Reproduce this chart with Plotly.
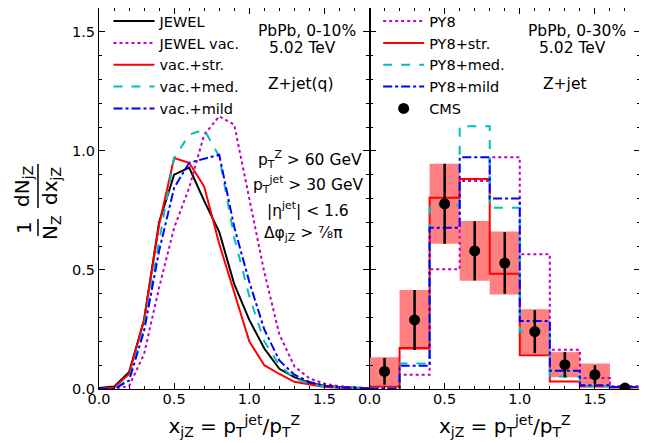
import plotly.graph_objects as go

# ---------------- data ----------------
x_left = [0.0, 0.1, 0.2, 0.3, 0.4, 0.5, 0.6, 0.7, 0.8, 0.9, 1.0, 1.1, 1.2, 1.3, 1.4, 1.5, 1.6, 1.7, 1.8]
jewel = [0.004, 0.01, 0.07, 0.29, 0.70, 0.90, 0.93, 0.79, 0.66, 0.44, 0.29, 0.17, 0.085, 0.05, 0.025, 0.014, 0.008, 0.005, 0.003]
jewel_vac = [0.0, 0.002, 0.012, 0.147, 0.426, 0.677, 0.845, 1.068, 1.145, 1.11, 0.80, 0.49, 0.23, 0.095, 0.045, 0.022, 0.012, 0.006, 0.004]
vac_str = [0.0, 0.006, 0.063, 0.29, 0.69, 0.97, 0.95, 0.85, 0.61, 0.40, 0.20, 0.10, 0.063, 0.03, 0.018, 0.008, 0.005, 0.003, 0.002]
vac_med = [0.0, 0.002, 0.042, 0.258, 0.62, 0.97, 1.068, 1.089, 0.977, 0.635, 0.39, 0.20, 0.10, 0.045, 0.022, 0.012, 0.006, 0.004, 0.002]
vac_mild = [0.0, 0.0, 0.035, 0.244, 0.58, 0.845, 0.95, 0.968, 0.984, 0.68, 0.45, 0.25, 0.12, 0.06, 0.03, 0.014, 0.007, 0.004, 0.002]

bin_edges = [0.0, 0.2, 0.4, 0.6, 0.8, 1.0, 1.2, 1.4, 1.6, 1.8]
bin_centers = [0.1, 0.3, 0.5, 0.7, 0.9, 1.1, 1.3, 1.5, 1.7]
py8 = [0.002, 0.06, 0.503, 0.873, 0.973, 0.566, 0.165, 0.046, 0.012]
py8_str = [0.01, 0.172, 0.803, 0.882, 0.484, 0.142, 0.032, 0.01, 0.006]
py8_med = [0.002, 0.107, 0.772, 1.103, 0.761, 0.241, 0.052, 0.012, 0.006]
py8_mild = [0.002, 0.098, 0.677, 0.973, 0.80, 0.286, 0.077, 0.016, 0.008]
cms_y = [0.074, 0.29, 0.778, 0.58, 0.529, 0.241, 0.102, 0.06, 0.004]
cms_stat = [0.056, 0.126, 0.168, 0.124, 0.129, 0.09, 0.053, 0.04, 0.004]
cms_sys = [0.059, 0.126, 0.168, 0.125, 0.132, 0.094, 0.053, 0.047, 0.0]

FONT = "DejaVu Sans"
MAG, RED, CYAN, BLUE = "#bf00bf", "#ff0000", "#00bfbf", "#0000ff"
LW = 2

fig = go.Figure()

# ---------------- left panel ----------------
left_series = [
    ("JEWEL", jewel, "black", "solid"),
    ("JEWEL vac.", jewel_vac, MAG, "dot"),
    ("vac.+str.", vac_str, RED, "solid"),
    ("vac.+med.", vac_med, CYAN, "dash"),
    ("vac.+mild", vac_mild, BLUE, "dashdot"),
]
for name, ys, col, dash in left_series:
    fig.add_trace(go.Scatter(x=x_left, y=ys, mode="lines", name=name,
                             line=dict(color=col, width=LW, dash=dash),
                             xaxis="x", yaxis="y", legend="legend", legendgroup=name))

# ---------------- right panel ----------------
sys_base = [v - s for v, s in zip(cms_y, cms_sys)]
sys_height = [2 * s for s in cms_sys]
fig.add_trace(go.Bar(x=bin_centers, y=sys_height, base=sys_base, width=0.2,
                     marker=dict(color="#ff8080", line=dict(width=0)),
                     showlegend=False, xaxis="x2", yaxis="y2", hoverinfo="skip"))

right_series = [
    ("PY8", py8, MAG, "dot"),
    ("PY8+str.", py8_str, RED, "solid"),
    ("PY8+med.", py8_med, CYAN, "dash"),
    ("PY8+mild", py8_mild, BLUE, "dashdot"),
]
for name, ys, col, dash in right_series:
    fig.add_trace(go.Scatter(x=bin_edges, y=ys + [ys[-1]], mode="lines", name=name,
                             line=dict(color=col, width=LW, dash=dash, shape="hv"),
                             xaxis="x2", yaxis="y2", legend="legend2", legendgroup=name))

fig.add_trace(go.Scatter(x=bin_centers, y=cms_y, mode="markers", name="CMS",
                         marker=dict(color="black", size=11),
                         error_y=dict(type="data", array=cms_stat, color="black",
                                      thickness=2.5, width=0),
                         xaxis="x2", yaxis="y2", legend="legend2", legendgroup="CMS"))

# ---------------- axes ----------------
tickfont = dict(family=FONT, size=14.5, color="black")
common = dict(showline=True, linecolor="black", linewidth=1.2, mirror="allticks",
              ticks="inside", ticklen=6, tickwidth=1, tickcolor="black",
              showgrid=False, zeroline=False,
              minor=dict(ticks="inside", ticklen=3, tickwidth=1, tickcolor="black", dtick=0.1, showgrid=False))
xtitle = "x<sub>jZ</sub> = p<sub>T</sub><sup>jet</sup>/p<sub>T</sub><sup>Z</sup>"
tfont = dict(family=FONT, size=20, color="black")
fig.update_layout(
    xaxis=dict(domain=[0, 0.5], range=[0, 1.8], dtick=0.5, tick0=0, tickformat=".1f",
               tickfont=tickfont, ticklabelstandoff=-4, title=dict(text=xtitle, font=tfont, standoff=13),
               anchor="y", **common),
    xaxis2=dict(domain=[0.5, 1], range=[0, 1.8], dtick=0.5, tick0=0, tickformat=".1f",
                tickfont=tickfont, ticklabelstandoff=-4, title=dict(text=xtitle, font=tfont, standoff=13),
                anchor="y2", **common),
    yaxis=dict(domain=[0, 1], range=[0, 1.6], dtick=0.5, tick0=0, tickformat=".1f",
               tickfont=tickfont, anchor="x", **common),
    yaxis2=dict(domain=[0, 1], range=[0, 1.6], dtick=0.5, tick0=0, showticklabels=False,
                anchor="x2", **common),
)

# ---------------- legends ----------------
legend_common = dict(font=dict(family=FONT, size=14.5, color="black"), bgcolor="rgba(0,0,0,0)",
                     borderwidth=0, itemwidth=41, tracegroupgap=2, xanchor="left", yanchor="top",
                     yref="paper", xref="paper", traceorder="normal")
fig.update_layout(
    legend=dict(x=0.0175, y=1.0075, **legend_common),
    legend2=dict(x=0.516, y=1.0075, **legend_common),
)

# ---------------- annotations ----------------
tf = dict(family=FONT, size=15.5, color="black")
ann = [
    (1.385, 1.503, "PbPb, 0-10%", "x", "y"),
    (1.357, 1.430, "5.02 TeV", "x", "y"),
    (1.34, 1.279, "Z+jet(q)", "x", "y"),
    (1.407, 0.965, "p<sub>T</sub><sup>Z</sup> > 60 GeV", "x", "y"),
    (1.393, 0.859, "p<sub>T</sub><sup>jet</sup> > 30 GeV", "x", "y"),
    (1.393, 0.754, "|η<sup>jet</sup>| < 1.6", "x", "y"),
    (1.36, 0.649, "Δφ<sub>jZ</sub> > ⅞π", "x", "y"),
    (1.383, 1.503, "PbPb, 0-30%", "x2", "y2"),
    (1.353, 1.430, "5.02 TeV", "x2", "y2"),
    (1.30, 1.279, "Z+jet", "x2", "y2"),
]
for x, y, t, xr, yr in ann:
    fig.add_annotation(x=x, y=y, xref=xr, yref=yr, text=t, showarrow=False,
                       font=tf, xanchor="center", yanchor="middle")

# y-axis label as stacked fractions (rotated)
lf = dict(family=FONT, size=20, color="black")
for x, y, t in [(-0.1405, 0.533, "dN<sub>jZ</sub>"), (-0.0887, 0.533, "dx<sub>jZ</sub>"),
                (-0.1386, 0.4226, "1"), (-0.0887, 0.4226, "N<sub>Z</sub>")]:
    fig.add_annotation(x=x, y=y, xref="paper", yref="paper", text=t, showarrow=False,
                       font=lf, textangle=-90, xanchor="center", yanchor="middle")
fig.add_shape(type="line", xref="paper", yref="paper", x0=-0.1128, x1=-0.1128, y0=0.4751, y1=0.5906,
              line=dict(color="black", width=1.5))
fig.add_shape(type="line", xref="paper", yref="paper", x0=-0.1128, x1=-0.1128, y0=0.4016, y1=0.4462,
              line=dict(color="black", width=1.5))

# page body has an 8px default margin: size the figure so the plot area lands where the reference has it
fig.update_layout(width=639, height=435, margin=dict(l=91, r=7, t=0, b=54, autoexpand=False),
                  plot_bgcolor="white", paper_bgcolor="white", showlegend=True,
                  font=dict(family=FONT, color="black"))

fig.write_html("out.html")
